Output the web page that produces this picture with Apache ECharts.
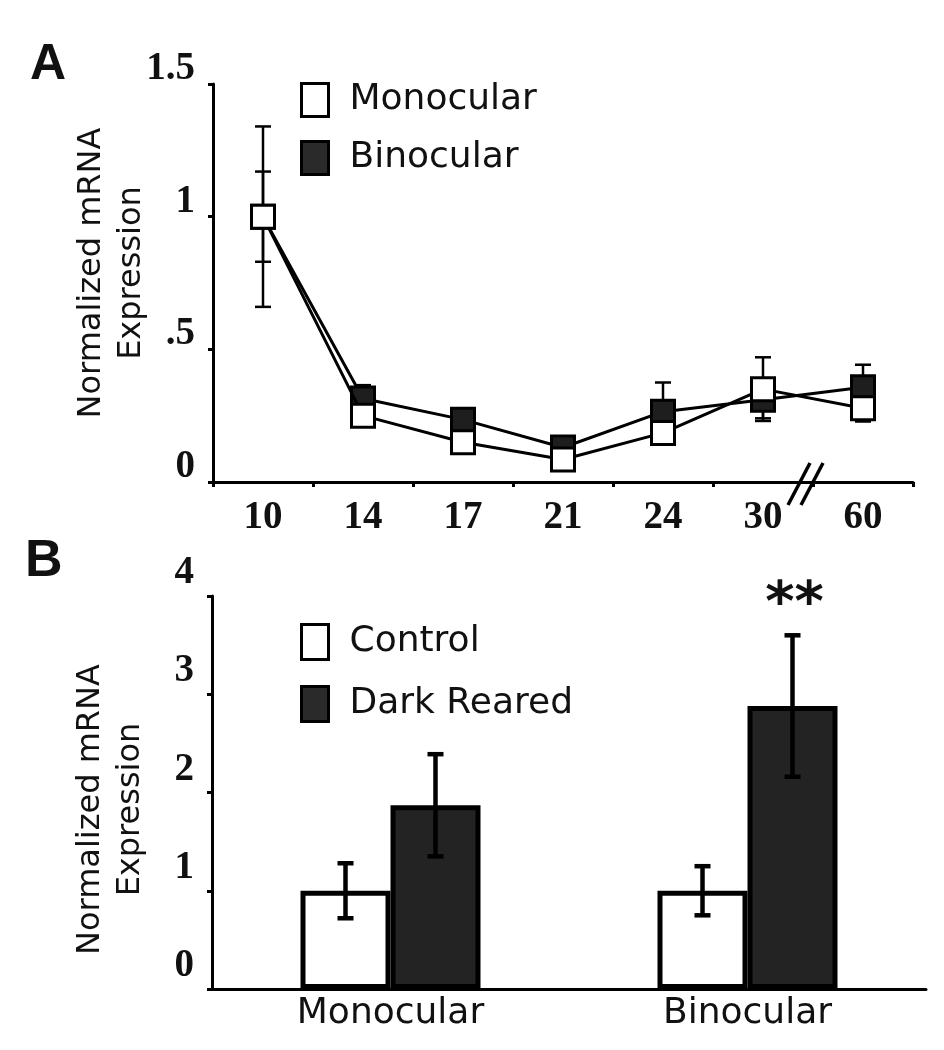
<!DOCTYPE html>
<html>
<head>
<meta charset="utf-8">
<script src="https://cdn.jsdelivr.net/npm/echarts@6/dist/echarts.min.js"></script>
<style>
  html, body { margin: 0; padding: 0; background: #fff; }
  #main { width: 944px; height: 1050px; }
</style>
</head>
<body>
<div id="main"></div>
<script>
(function () {
  // panel A: postnatal age (days)
  var ages = ['10', '14', '17', '21', '24', '30', '60'];
  var monocular = [1.0, 0.25, 0.15, 0.085, 0.185, 0.35, 0.278];
  var monocularErr = [0.34, 0.03, 0.02, 0.02, 0.02, 0.12, 0.05];
  var binocular = [1.0, 0.315, 0.235, 0.13, 0.265, 0.31, 0.357];
  var binocularErr = [0.17, 0.05, 0.03, 0.02, 0.11, 0.07, 0.085];
  var yTicksA = ['0', '.5', '1', '1.5'];

  // panel B: control vs dark reared
  var groups = ['Monocular', 'Binocular'];
  var control = [1.0, 1.0];
  var controlErr = [0.28, 0.25];
  var darkReared = [1.87, 2.88];
  var darkErr = [0.52, 0.72];
  var darkSig = ['', '**'];

  var sans = 'DejaVu Sans';
  var serif = 'Liberation Serif';

  var chart = echarts.init(document.getElementById('main'), null, { renderer: 'canvas' });

  function errData(vals, errs, sig) {
    return vals.map(function (v, i) { return [i, v, errs[i], sig ? sig[i] : '']; });
  }

  // 误差线（可带 x 偏移）
  function errRender(offset, cap) {
    return function (params, api) {
      var i = api.value(0), v = api.value(1), e = api.value(2);
      var hi = api.coord([i, v + e]);
      var lo = api.coord([i, v - e]);
      var x = hi[0] + offset;
      var lw = params.seriesIndex >= 4 ? 4.5 : 2.5;
      var st = { stroke: '#000', lineWidth: lw };
      var kids = [
        { type: 'line', shape: { x1: x, y1: hi[1], x2: x, y2: lo[1] }, style: st },
        { type: 'line', shape: { x1: x - cap, y1: hi[1], x2: x + cap, y2: hi[1] }, style: st },
        { type: 'line', shape: { x1: x - cap, y1: lo[1], x2: x + cap, y2: lo[1] }, style: st }
      ];
      var s = darkSig[i];
      if (params.seriesName === 'darkErr' && s) {
        kids.push({
          type: 'text',
          style: { text: s, x: x + 2, y: hi[1] - 2, align: 'center', verticalAlign: 'bottom',
                   font: 'bold 56px "DejaVu Sans"', fill: '#111' }
        });
      }
      return { type: 'group', children: kids };
    };
  }

  var option = {
    animation: false,
    grid: [
      { left: 213, top: 84, width: 700, height: 398 },
      { left: 212, top: 596, width: 714, height: 393 }
    ],
    legend: [
      {
        orient: 'vertical', left: 300, top: 82, padding: 0, itemWidth: 27, itemHeight: 33, itemGap: 22,
        selectedMode: false,
        textStyle: { fontFamily: sans, fontSize: 36, color: '#111', padding: [0, 0, 0, 16] },
        data: [
          { name: 'Monocular', icon: 'rect', itemStyle: { color: '#fff', borderColor: '#000', borderWidth: 3 } },
          { name: 'Binocular', icon: 'rect', itemStyle: { color: '#2a2a2a', borderColor: '#000', borderWidth: 3 } }
        ]
      },
      {
        orient: 'vertical', left: 300, top: 623, padding: 0, itemWidth: 27, itemHeight: 35, itemGap: 24,
        selectedMode: false,
        textStyle: { fontFamily: sans, fontSize: 36, color: '#111', padding: [0, 0, 0, 16] },
        data: [
          { name: 'Control', icon: 'rect', itemStyle: { color: '#fff', borderColor: '#000', borderWidth: 3 } },
          { name: 'Dark Reared', icon: 'rect', itemStyle: { color: '#2a2a2a', borderColor: '#000', borderWidth: 3 } }
        ]
      }
    ],
    xAxis: [
      {
        type: 'category', gridIndex: 0, data: ages, boundaryGap: true,
        axisLine: { lineStyle: { color: '#000', width: 3 } },
        axisTick: { show: true, length: 5, lineStyle: { color: '#000', width: 3 } },
        axisLabel: { fontFamily: serif, fontWeight: 'bold', fontSize: 39, color: '#111', margin: 16 }
      },
      {
        type: 'category', gridIndex: 1, data: groups, boundaryGap: true,
        axisLine: { lineStyle: { color: '#000', width: 3 } },
        axisTick: { show: false },
        axisLabel: { fontFamily: sans, fontSize: 36, color: '#111', margin: 7 }
      }
    ],
    yAxis: [
      {
        type: 'value', gridIndex: 0, min: 0, max: 1.5, interval: 0.5,
        splitLine: { show: false },
        axisLine: { show: true, lineStyle: { color: '#000', width: 3 } },
        axisTick: { show: true, length: 5, lineStyle: { color: '#000', width: 3 } },
        axisLabel: {
          fontFamily: serif, fontWeight: 'bold', fontSize: 39, color: '#111', margin: 18,
          verticalAlign: 'bottom', lineHeight: 30,
          formatter: function (v, i) { return yTicksA[i]; }
        },
        name: 'Normalized mRNA\nExpression', nameLocation: 'middle', nameGap: 61, nameMoveOverlap: false,
        nameTextStyle: { fontFamily: sans, fontSize: 32, lineHeight: 40, color: '#111', padding: [0, 0, 0, 20] }
      },
      {
        type: 'value', gridIndex: 1, min: 0, max: 4, interval: 1,
        splitLine: { show: false },
        axisLine: { show: true, lineStyle: { color: '#000', width: 3 } },
        axisTick: { show: true, length: 5, lineStyle: { color: '#000', width: 3 } },
        axisLabel: {
          fontFamily: serif, fontWeight: 'bold', fontSize: 39, color: '#111', margin: 18,
          verticalAlign: 'bottom', lineHeight: 46
        },
        name: 'Normalized mRNA\nExpression', nameLocation: 'middle', nameGap: 61, nameMoveOverlap: false,
        nameTextStyle: { fontFamily: sans, fontSize: 32, lineHeight: 40, color: '#111', padding: [0, 34, 0, 0] }
      }
    ],
    series: [
      {
        name: 'binoErr', type: 'custom', xAxisIndex: 0, yAxisIndex: 0, z: 1,
        renderItem: errRender(0, 8), encode: { x: 0, y: 1 },
        data: errData(binocular, binocularErr)
      },
      {
        name: 'monoErr', type: 'custom', xAxisIndex: 0, yAxisIndex: 0, z: 1,
        renderItem: errRender(0, 8), encode: { x: 0, y: 1 },
        data: errData(monocular, monocularErr)
      },
      {
        name: 'Binocular', type: 'line', xAxisIndex: 0, yAxisIndex: 0, z: 3,
        data: binocular, symbol: 'rect', symbolSize: 23,
        itemStyle: { color: '#1e1e1e', borderColor: '#000', borderWidth: 3 },
        lineStyle: { color: '#000', width: 3 },
        emphasis: { disabled: true }
      },
      {
        name: 'Monocular', type: 'line', xAxisIndex: 0, yAxisIndex: 0, z: 4,
        data: monocular, symbol: 'rect', symbolSize: 23,
        itemStyle: { color: '#fff', borderColor: '#000', borderWidth: 3 },
        lineStyle: { color: '#000', width: 3 },
        emphasis: { disabled: true }
      },
      {
        name: 'Control', type: 'bar', xAxisIndex: 1, yAxisIndex: 1, z: 2,
        data: control, barWidth: 90, barGap: '0%',
        itemStyle: { color: '#fff', borderColor: '#000', borderWidth: 5 },
        emphasis: { disabled: true }
      },
      {
        name: 'Dark Reared', type: 'bar', xAxisIndex: 1, yAxisIndex: 1, z: 2,
        data: darkReared, barWidth: 90, barGap: '0%',
        itemStyle: { color: '#232323', borderColor: '#000', borderWidth: 5 },
        emphasis: { disabled: true }
      },
      {
        name: 'controlErr', type: 'custom', xAxisIndex: 1, yAxisIndex: 1, z: 5,
        renderItem: errRender(-45, 8), encode: { x: 0, y: 1 },
        data: errData(control, controlErr)
      },
      {
        name: 'darkErr', type: 'custom', xAxisIndex: 1, yAxisIndex: 1, z: 5,
        renderItem: errRender(45, 8), encode: { x: 0, y: 1 },
        data: errData(darkReared, darkErr, darkSig)
      }
    ],
    graphic: [
      { type: 'text', left: 30, top: 40, style: { text: 'A', font: 'bold 50px "Liberation Sans"', fill: '#111' } },
      { type: 'text', left: 25, top: 536, style: { text: 'B', font: 'bold 52px "Liberation Sans"', fill: '#111' } },
      // axis break
      { type: 'line', shape: { x1: 788, y1: 505, x2: 810, y2: 463 }, style: { stroke: '#000', lineWidth: 3.5 } },
      { type: 'line', shape: { x1: 801, y1: 505, x2: 823, y2: 463 }, style: { stroke: '#000', lineWidth: 3.5 } }
    ]
  };

  chart.setOption(option);
})();
</script>
</body>
</html>
